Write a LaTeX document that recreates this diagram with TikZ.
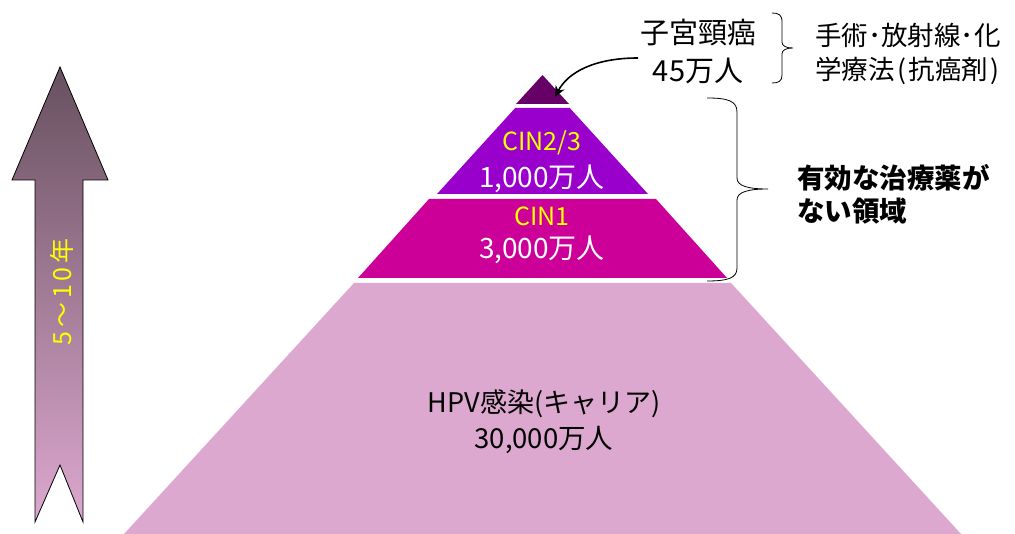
\documentclass[tikz,border=0pt]{standalone}
\usepackage{fontspec}
\setmainfont{Noto Sans CJK JP}
\usetikzlibrary{arrows.meta}
\definecolor{topc}{HTML}{660066}
\definecolor{cintt}{HTML}{9900CC}
\definecolor{cinone}{HTML}{CC0099}
\definecolor{hpv}{HTML}{DDA8CF}
\definecolor{arrtop}{HTML}{67505F}
\definecolor{yel}{HTML}{FFFF00}
\tikzset{
  lbl/.style={inner sep=0pt, align=center},
  brace/.style={draw=black, line width=0.8pt},
}
\begin{document}
\begin{tikzpicture}[x=1pt,y=-1pt]
\useasboundingbox (0,0) rectangle (1015,534);
\fill[white] (0,0) rectangle (1015,534);
% pyramid layers: apex (542.5,75), half width 0.91*(y-75)
\fill[topc] (542.5,75) -- (569,104) -- (516,104) -- cycle;
\fill[cintt] (515.2,108) -- (569.8,108) -- (648,194) -- (437,194) -- cycle;
\fill[cinone] (429,199) -- (656,199) -- (727,278) -- (358,278) -- cycle;
\fill[hpv] (354,283) -- (731,283) -- (961,534) -- (124,534) -- cycle;
% layer texts
\node[lbl, text=yel, font=\fontsize{25}{28}\selectfont] (c23) at (542,143) {CIN2/3};
\node[lbl, text=white, font=\fontsize{28}{32}\selectfont] (c23n) at (542,179) {1,000万人};
\node[lbl, text=yel, font=\fontsize{25}{28}\selectfont] (c1) at (542,216) {CIN1};
\node[lbl, text=white, font=\fontsize{28}{32}\selectfont] (c1n) at (542,250) {3,000万人};
\node[lbl, font=\fontsize{27}{30}\selectfont] (hpvt) at (544,404) {HPV感染(キャリア)};
\node[lbl, font=\fontsize{27.5}{30}\selectfont] (hpvn) at (544,440) {30,000万人};
% cancer label
\node[lbl, font=\fontsize{29}{32}\selectfont] (cc) at (698,33) {子宮頸癌};
\node[lbl, font=\fontsize{29}{32}\selectfont] (ccn) at (698,71) {45万人};
\coordinate (astart) at (638,58);
\coordinate (aend) at (555,97);
\draw[line width=1.6pt, -{Stealth[length=11pt,width=10pt]}] (astart) .. controls (595,58) and (568,72) .. (aend);
% small bracket
\coordinate (b1) at (772,13);
\coordinate (b2) at (772,83);
\draw[brace] (b1) .. controls (779,13) and (782,15) .. (782,22) -- (782,42) .. controls (782,46) and (786,48) .. (793,48)
  .. controls (786,48) and (782,50) .. (782,54) -- (782,75) .. controls (782,81) and (779,83) .. (b2);
\node[lbl, anchor=west, font=\fontsize{26.5}{30}\selectfont] (tr1) at (815,35) {手術･放射線･化};
\node[lbl, anchor=west, font=\fontsize{26.5}{30}\selectfont] (tr2) at (815,71) {学療法\hspace{3pt}(\hspace{2pt}抗癌剤\hspace{2pt})};
% big brace
\coordinate (B1) at (707,98);
\coordinate (B2) at (707,281);
\draw[brace] (B1) .. controls (728,98) and (737,101) .. (737,112) -- (737,178) .. controls (737,186) and (748,189) .. (768,189)
  .. controls (748,189) and (737,192) .. (737,200) -- (737,268) .. controls (737,278) and (728,281) .. (B2);
\node[lbl, anchor=west, align=left, font=\bfseries\fontsize{27.5}{33}\selectfont] (nt) at (797,194) {有効な治療薬が\\ない領域};
% left arrow
\shadedraw[top color=arrtop, bottom color=hpv, draw=black, line width=0.8pt]
  (60,67) -- (108,180) -- (83,180) -- (83,522) -- (60,465) -- (35,522) -- (35,180) -- (12,180) -- cycle;
\node[lbl, rotate=90, text=yel, font=\fontsize{25}{28}\selectfont] (yrs) at (62,292) {5\hspace{4pt}〜\hspace{4pt}1\hspace{3pt}0\hspace{4pt}年};
\end{tikzpicture}
\end{document}
